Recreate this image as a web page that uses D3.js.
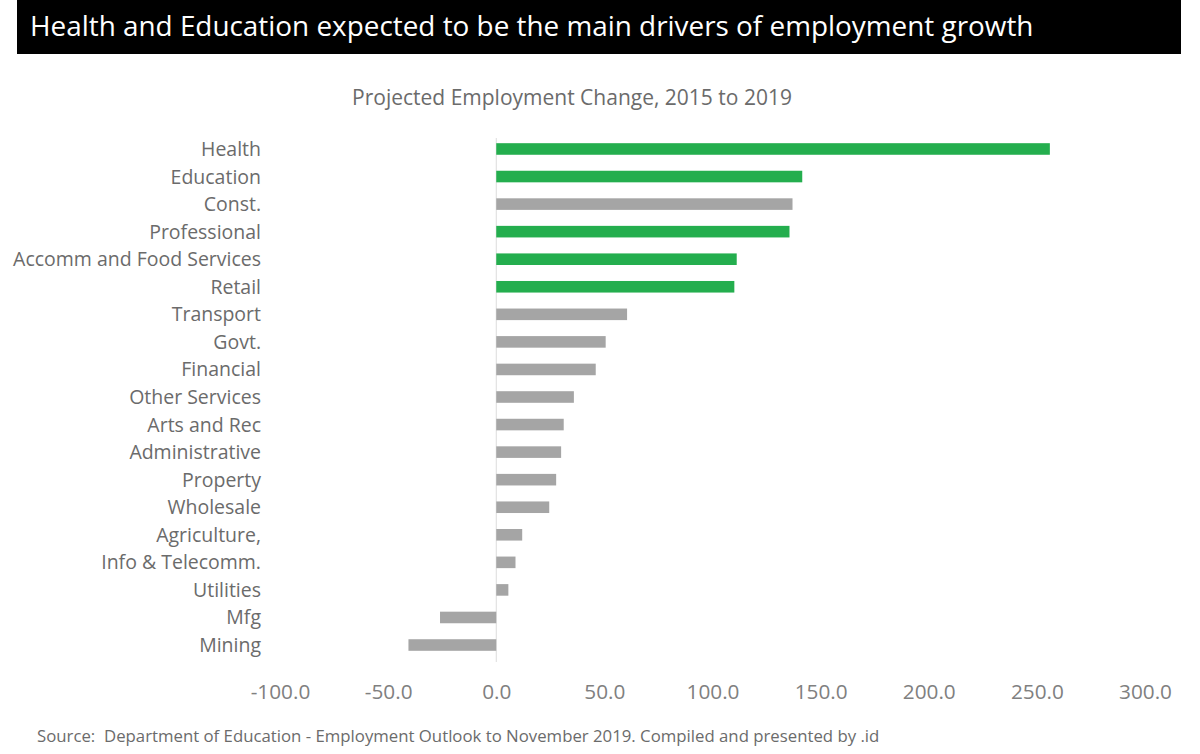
<!DOCTYPE html>
<html lang="en">
<head>
    <meta charset="UTF-8">
    <title>Projected Employment Change, 2015 to 2019</title>
    <style>
        body { margin: 0; background: #fff; }
        svg { display: block; font-family: "Open Sans", "Noto Sans", sans-serif; }
        .source { white-space: pre; }
    </style>
</head>
<body>
<svg id="chart" width="1200" height="754"></svg>

<script src="https://d3js.org/d3.v7.min.js"></script>
<script>
    // Data (thousands of jobs)
    var categories = ["Health", "Education", "Const.", "Professional", "Accomm and Food Services",
        "Retail", "Transport", "Govt.", "Financial", "Other Services", "Arts and Rec",
        "Administrative", "Property", "Wholesale", "Agriculture,", "Info & Telecomm.",
        "Utilities", "Mfg", "Mining"];
    var values = [256, 141.5, 137, 135.6, 111.2, 110.1, 60.5, 50.6, 46, 35.9, 31.2,
        30, 27.7, 24.5, 12, 8.9, 5.6, -26, -40.6];
    // sectors shown in green
    var highlighted = ["Health", "Education", "Professional", "Accomm and Food Services", "Retail"];
    var tickValues = [-100, -50, 0, 50, 100, 150, 200, 250, 300];

    var title = "Health and Education expected to be the main drivers of employment growth";
    var subtitle = "Projected Employment Change, 2015 to 2019";
    var source = "Source:  Department of Education - Employment Outlook to November 2019. Compiled and presented by .id";

    var svg = d3.select("#chart");

    // shrink/grow a text's font so it spans the wanted width
    function fitWidth(sel, width) {
        var node = sel.node();
        var size = parseFloat(sel.attr("font-size"));
        var w = node.getComputedTextLength();
        sel.attr("font-size", (size * width / w).toFixed(2));
        return size * width / w;
    }

    // title bar
    svg.append("rect")
        .attr("x", 17).attr("y", 0)
        .attr("width", 1164).attr("height", 54)
        .attr("fill", "#000");

    var t = svg.append("text")
        .attr("x", 30).attr("y", 36)
        .attr("font-size", 25)
        .attr("fill", "#fff")
        .text(title);
    fitWidth(t, 1004);

    var st = svg.append("text")
        .attr("x", 572).attr("y", 105)
        .attr("text-anchor", "middle")
        .attr("font-size", 18)
        .attr("fill", "#6b6b6b")
        .text(subtitle);
    fitWidth(st, 440);

    // scales
    var x = d3.scaleLinear().domain([-100, 300]).range([280, 1145]);
    var y = d3.scaleBand()
        .domain(categories)
        .range([135.2, 658.8])
        .paddingInner(0.58)
        .paddingOuter(0.29);

    // zero line
    svg.append("line")
        .attr("x1", x(0)).attr("x2", x(0))
        .attr("y1", 138).attr("y2", 662)
        .attr("stroke", "#dcdcdc")
        .attr("stroke-width", 1);

    // bars
    svg.selectAll(".bar")
        .data(categories)
        .enter().append("rect")
        .attr("class", "bar")
        .attr("x", (d, i) => x(Math.min(0, values[i])))
        .attr("width", (d, i) => Math.abs(x(values[i]) - x(0)))
        .attr("y", d => y(d))
        .attr("height", y.bandwidth())
        .attr("fill", d => highlighted.indexOf(d) >= 0 ? "#24AE4E" : "#A5A5A5");

    // category labels
    var probe = svg.append("text")
        .attr("font-size", 18)
        .text("Accomm and Food Services");
    var labelSize = fitWidth(probe, 248);
    probe.remove();

    svg.selectAll(".cat")
        .data(categories)
        .enter().append("text")
        .attr("class", "cat")
        .attr("x", 261)
        .attr("y", d => y(d) + y.bandwidth() / 2)
        .attr("dy", "0.36em")
        .attr("text-anchor", "end")
        .attr("font-size", labelSize.toFixed(2))
        .attr("fill", "#6b6b6b")
        .text(d => d);

    // x axis (labels only), plain hyphen for negatives like the original
    var axis = svg.append("g")
        .attr("transform", "translate(0,682)")
        .call(d3.axisBottom(x)
            .tickValues(tickValues)
            .tickSize(0)
            .tickPadding(0)
            .tickFormat(d => d.toFixed(1)));
    axis.select(".domain").remove();

    var tprobe = svg.append("text").attr("font-size", 17).text("300.0");
    var tickSize = fitWidth(tprobe, 53);
    tprobe.remove();

    axis.selectAll("text")
        .attr("font-family", "\"Open Sans\", \"Noto Sans\", sans-serif")
        .attr("font-size", tickSize.toFixed(2))
        .attr("fill", "#808080")
        .attr("dy", "0.82em");

    // source note
    var src = svg.append("text")
        .attr("class", "source")
        .attr("x", 37).attr("y", 742)
        .attr("font-size", 14)
        .attr("fill", "#6b6b6b")
        .text(source);
    fitWidth(src, 843);
</script>

</body>
</html>
